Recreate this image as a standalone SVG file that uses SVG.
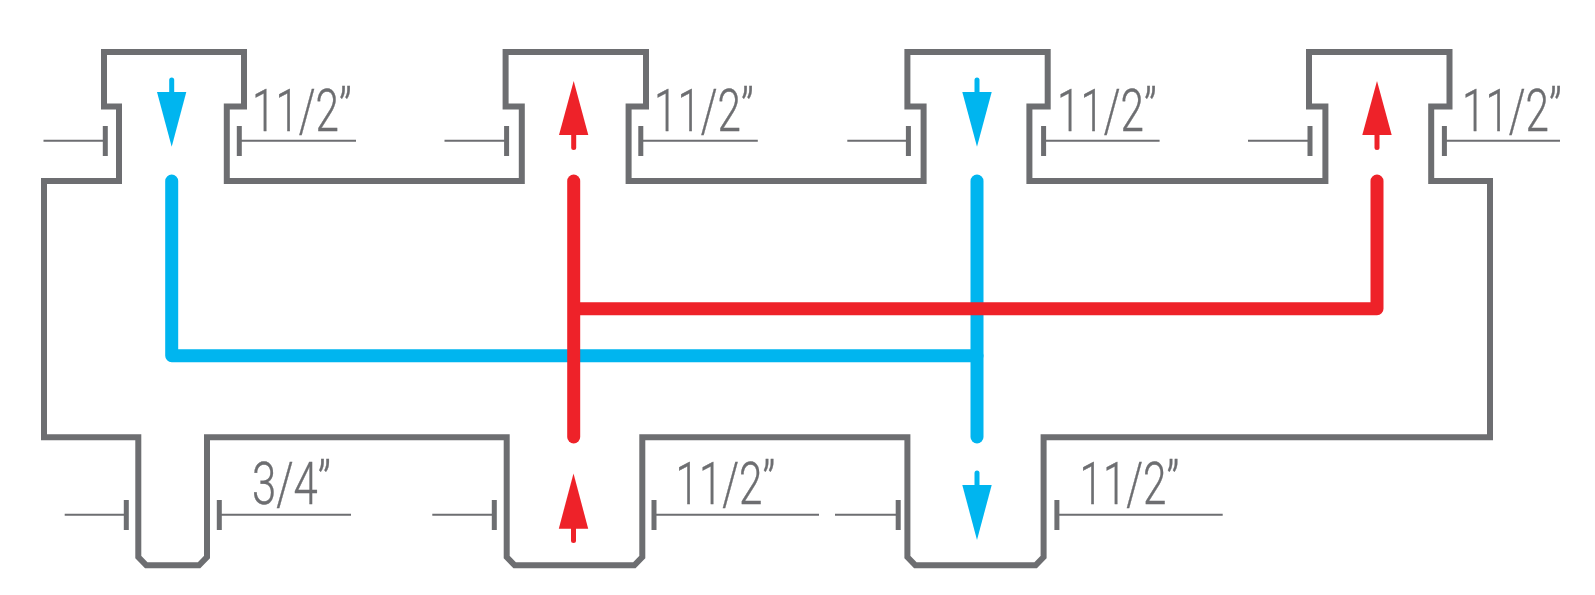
<svg xmlns="http://www.w3.org/2000/svg" width="1595" height="595" viewBox="0 0 1595 595">
<style>
.outline{fill:none;stroke:#6d6e71;stroke-width:6;stroke-linejoin:miter}
.dim{stroke:#6d6e71;stroke-width:2;fill:none}
.tick{stroke:#6d6e71;stroke-width:5;fill:none}
.lbl{font-family:Roboto,"Liberation Sans",sans-serif;font-weight:300;font-size:59px;fill:#6d6e71;stroke:#6d6e71;stroke-width:.4}
.bl{fill:none;stroke:#00b5ef;stroke-width:13;stroke-linecap:round;stroke-linejoin:round}
.rd{fill:none;stroke:#ee2229;stroke-width:13;stroke-linecap:round;stroke-linejoin:round}
.bs{stroke:#00b5ef;stroke-width:5;stroke-linecap:round}
.rs{stroke:#ee2229;stroke-width:5;stroke-linecap:round}
.bf{fill:#00b5ef}
.rf{fill:#ee2229}
</style>
<g id="body">
<path class="outline" d="M44 181H119V106.500H104V52H244V106.500H226.800V181H521.800V106.500H505.600V52H646V106.500H628.600V181H923.600V106.500H907.400V52H1047.700V106.500H1029.400V181H1325.400V106.500H1309V52H1449.500V106.500H1431.200V181H1490V437.300H1043.600V557L1035.600 565.300H915.400L907.400 557V437.300H642.300V557L634.300 565.300H514.700L506.700 557V437.300H207V557L199 565.300H146.300L138.300 557V437.300H44Z"/>
</g>
<g id="connectors">
<path class="bl" d="M171.700 181V355.700H977"/>
<path class="bl" d="M977 181V437"/>
<path class="rd" d="M1377 181V308.700H578"/>
<path class="rd" d="M573.700 181V437"/>
</g>
<g id="arrow-top-1"><path class="bs" d="M171.700 80V95"/><path class="bf" d="M157 92H186.300L171.700 146.700Z"/></g>
<g id="arrow-top-2"><path class="rs" d="M573.700 130V147.500"/><path class="rf" d="M559 135H588.300L573.700 81Z"/></g>
<g id="arrow-top-3"><path class="bs" d="M977 80V95"/><path class="bf" d="M962.300 92H991.700L977 146.700Z"/></g>
<g id="arrow-top-4"><path class="rs" d="M1377 130V147.500"/><path class="rf" d="M1362.300 135H1391.700L1377 81Z"/></g>
<g id="arrow-bottom-2"><path class="rs" d="M573.500 525V540.500"/><path class="rf" d="M558.800 528.700H588.200L573.500 473.500Z"/></g>
<g id="arrow-bottom-3"><path class="bs" d="M977 473V490"/><path class="bf" d="M962.300 485H991.700L977 540Z"/></g>
<g id="dim-top-1"><path class="dim" d="M43.500 140.700H105.300M239.300 140.700H356"/><path class="tick" d="M105.300 126V156M239.300 126V156"/><text class="lbl" transform="translate(252 130.700) scale(.715 1)">11/2”</text></g>
<g id="dim-top-2"><path class="dim" d="M444.500 140.700H506.600M640.800 140.700H757.800"/><path class="tick" d="M506.600 126V156M640.800 126V156"/><text class="lbl" transform="translate(654 130.700) scale(.715 1)">11/2”</text></g>
<g id="dim-top-3"><path class="dim" d="M847.300 140.700H908.400M1043.600 140.700H1159.600"/><path class="tick" d="M908.400 126V156M1043.600 126V156"/><text class="lbl" transform="translate(1057 130.700) scale(.715 1)">11/2”</text></g>
<g id="dim-top-4"><path class="dim" d="M1248 140.700H1310M1444.400 140.700H1560"/><path class="tick" d="M1310 126V156M1444.400 126V156"/><text class="lbl" transform="translate(1462 130.700) scale(.715 1)">11/2”</text></g>
<g id="dim-bottom-1"><path class="dim" d="M64.700 514.700H126.300M219.300 514.700H351"/><path class="tick" d="M126.300 500V530M219.300 500V530"/><text class="lbl" transform="translate(252 504) scale(.74 1)">3/4”</text></g>
<g id="dim-bottom-2"><path class="dim" d="M432.300 514.700H494.300M654 514.700H819"/><path class="tick" d="M494.300 500V530M654 500V530"/><text class="lbl" transform="translate(675.500 504) scale(.715 1)">11/2”</text></g>
<g id="dim-bottom-3"><path class="dim" d="M835 514.700H898.200M1056.900 514.700H1222.700"/><path class="tick" d="M898.200 500V530M1056.900 500V530"/><text class="lbl" transform="translate(1079.500 504) scale(.715 1)">11/2”</text></g>
</svg>
